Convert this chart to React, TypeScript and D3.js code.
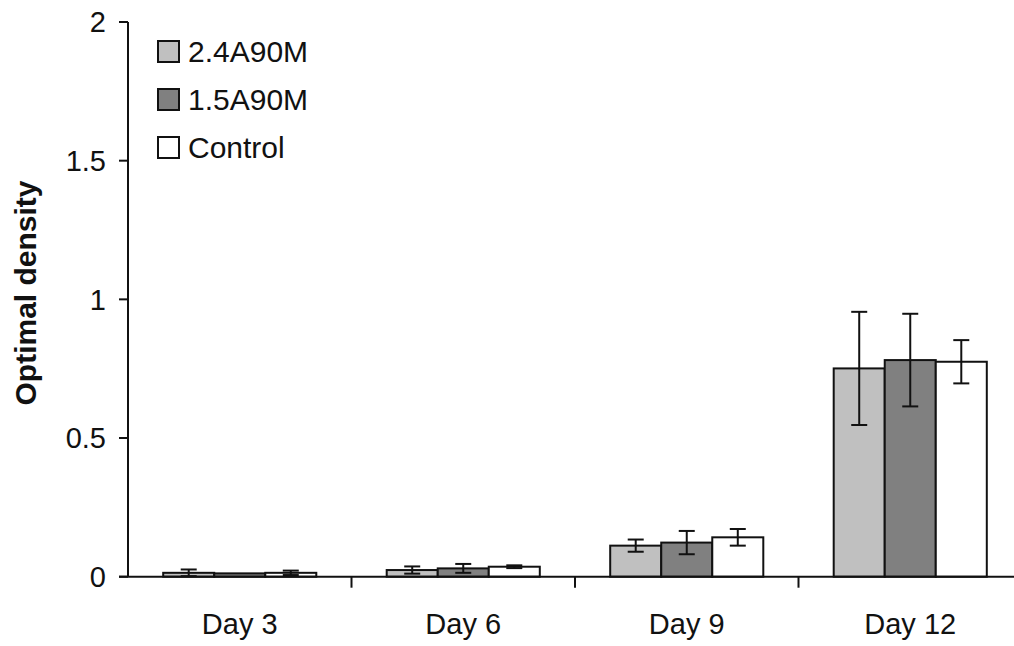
import React from "react";
import * as d3 from "d3";

const days = ["Day 3", "Day 6", "Day 9", "Day 12"];
const seriesNames = ["2.4A90M", "1.5A90M", "Control"];
const seriesColors = ["#c0c0c0", "#808080", "#ffffff"];
const vals24 = [0.014, 0.024, 0.112, 0.751];
const err24 = [0.012, 0.013, 0.022, 0.204];
const vals15 = [0.012, 0.030, 0.123, 0.781];
const err15 = [0.0, 0.016, 0.042, 0.167];
const valsCtl = [0.014, 0.036, 0.142, 0.775];
const errCtl = [0.008, 0.005, 0.030, 0.078];
const yTicks = [0, 0.5, 1, 1.5, 2];
const yTickLabels = ["0", "0.5", "1", "1.5", "2"];

const values = [vals24, vals15, valsCtl];
const errors = [err24, err15, errCtl];

const W = 1014;
const H = 646;
const FONT = "'Liberation Sans', Arial, Helvetica, sans-serif";

export default function App() {
  const left = 128;
  const x0 = d3.scaleBand<string>().domain(days).range([left, left + 4 * 223.5]).padding(0);
  const groupW = x0.bandwidth() * 0.685;
  const x1 = d3.scaleBand<string>().domain(seriesNames).range([0, groupW]).padding(0);
  const y = d3.scaleLinear().domain([0, 2]).range([576.7, 22]);
  const y0 = y(0);
  const capW = 16;

  return (
    <svg width={W} height={H} style={{ position: "absolute", left: 0, top: 0, background: "#fff" }} fontFamily={FONT}>
      <rect x={0} y={0} width={W} height={H} fill="#fff" />
      {days.map((d, i) => {
        const gx = (x0(d) as number) + (x0.bandwidth() - groupW) / 2;
        return (
          <g key={d}>
            {seriesNames.map((s, j) => {
              const v = values[j][i];
              const bx = gx + (x1(s) as number);
              return (
                <rect
                  key={s}
                  x={bx}
                  y={y(v)}
                  width={x1.bandwidth()}
                  height={y0 - y(v)}
                  fill={seriesColors[j]}
                  stroke="#111"
                  strokeWidth={2}
                />
              );
            })}
            {seriesNames.map((s, j) => {
              const v = values[j][i];
              const e = errors[j][i];
              if (e <= 0) return null;
              const cx = gx + (x1(s) as number) + x1.bandwidth() / 2;
              return (
                <g key={s} stroke="#111" strokeWidth={2}>
                  <line x1={cx} x2={cx} y1={y(v + e)} y2={y(v - e)} />
                  <line x1={cx - capW / 2} x2={cx + capW / 2} y1={y(v + e)} y2={y(v + e)} />
                  <line x1={cx - capW / 2} x2={cx + capW / 2} y1={y(v - e)} y2={y(v - e)} />
                </g>
              );
            })}
          </g>
        );
      })}
      <line x1={left} x2={left} y1={y(2)} y2={y0} stroke="#111" strokeWidth={2} />
      {yTicks.map((t, i) => (
        <g key={t}>
          <line x1={left - 9} x2={left} y1={y(t)} y2={y(t)} stroke="#111" strokeWidth={2} />
          <text x={106} y={y(t)} dy="0.36em" textAnchor="end" fontSize={29} fill="#111">
            {yTickLabels[i]}
          </text>
        </g>
      ))}
      <line x1={left - 9} x2={W} y1={y0} y2={y0} stroke="#111" strokeWidth={2} />
      {days.slice(1).map((d) => (
        <line key={d} x1={x0(d) as number} x2={x0(d) as number} y1={y0} y2={y0 + 11} stroke="#111" strokeWidth={2} />
      ))}
      {days.map((d) => (
        <text key={d} x={(x0(d) as number) + x0.bandwidth() / 2} y={634} textAnchor="middle" fontSize={29} fill="#111">
          {d}
        </text>
      ))}
      <text
        transform={`translate(36, ${293}) rotate(-90)`}
        textAnchor="middle"
        fontSize={30}
        fontWeight="bold"
        fill="#111"
      >
        Optimal density
      </text>
      {seriesNames.map((s, j) => (
        <g key={s} transform={`translate(158, ${41 + j * 48})`}>
          <rect x={0} y={0} width={21} height={21} fill={seriesColors[j]} stroke="#111" strokeWidth={2} />
          <text x={30} y={10.5} dy="0.36em" fontSize={30} fill="#111">
            {s}
          </text>
        </g>
      ))}
    </svg>
  );
}
